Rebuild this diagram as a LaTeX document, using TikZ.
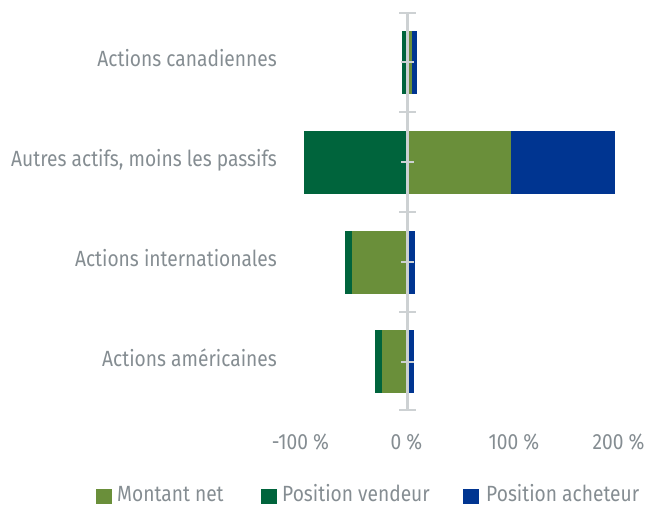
\documentclass[tikz,border=0pt]{standalone}
\usepackage{fontspec}
\setmainfont[FakeStretch=0.872]{Fira Sans}
\definecolor{netc}{HTML}{6A8F3A}
\definecolor{vendc}{HTML}{00643C}
\definecolor{achc}{HTML}{003591}
\definecolor{txtc}{HTML}{858D92}
\definecolor{axisc}{HTML}{CDD1D3}
\tikzset{
  lbl/.style={inner sep=0pt, text=txtc, font=\fontsize{22}{26}\selectfont},
  catlbl/.style={lbl, anchor=base east},
  ticklbl/.style={lbl, anchor=base},
  leglbl/.style={lbl, anchor=base west, text depth=0pt},
  axisline/.style={draw=axisc, line width=2.6pt},
  tickline/.style={draw=axisc, line width=2pt},
}
\begin{document}
\begin{tikzpicture}[x=1pt,y=-1pt]
\useasboundingbox (0,0) rectangle (650,506);
% bars: Actions canadiennes
\fill[vendc] (402,31) rectangle (407.3,93.7);
\fill[netc] (407.3,31) rectangle (412,93.7);
\fill[achc] (412,31) rectangle (416.7,93.7);
% Autres actifs
\fill[vendc] (304,131) rectangle (407.3,193.7);
\fill[netc] (407.3,131) rectangle (510.7,193.7);
\fill[achc] (510.7,131) rectangle (615,193.7);
% Actions internationales
\fill[vendc] (345,231) rectangle (352,293.7);
\fill[netc] (352,231) rectangle (407.3,293.7);
\fill[achc] (407.3,231) rectangle (415,293.7);
% Actions americaines
\fill[vendc] (375.3,330.3) rectangle (382,393);
\fill[netc] (382,330.3) rectangle (407.3,393);
\fill[achc] (407.3,330.3) rectangle (414,393);
% axis
\coordinate (atop) at (407.3,12.5);
\coordinate (abot) at (407.3,410);
\draw[axisline] (atop) -- (abot);
\foreach \y in {12.5,112.3,212.3,311.7,410}
  \draw[tickline] (399,\y) -- (416,\y);
\foreach \y in {62.3,162.3,262,361.7}
  \draw[tickline] (401,\y) -- (414,\y);
% category labels
\node[catlbl] (c1) at (277,66.3) {Actions canadiennes};
\node[catlbl] (c2) at (277,166.3) {Autres actifs, moins les passifs};
\node[catlbl] (c3) at (277,266.3) {Actions internationales};
\node[catlbl] (c4) at (277,366) {Actions américaines};
% tick labels
\node[ticklbl] (t1) at (300.5,449) {-100 \%};
\node[ticklbl] (t2) at (406.5,449) {0 \%};
\node[ticklbl] (t3) at (514,449) {100 \%};
\node[ticklbl] (t4) at (618.5,449) {200 \%};
% legend
\fill[netc] (96,489.2) rectangle (111.5,504);
\node[leglbl] (l1) at (117,501.5) {Montant net};
\fill[vendc] (261,489.2) rectangle (276.5,504);
\node[leglbl] (l2) at (282,501.5) {Position vendeur};
\fill[achc] (463,489.2) rectangle (479,504);
\node[leglbl] (l3) at (486,501.5) {Position acheteur};
\end{tikzpicture}
\end{document}
